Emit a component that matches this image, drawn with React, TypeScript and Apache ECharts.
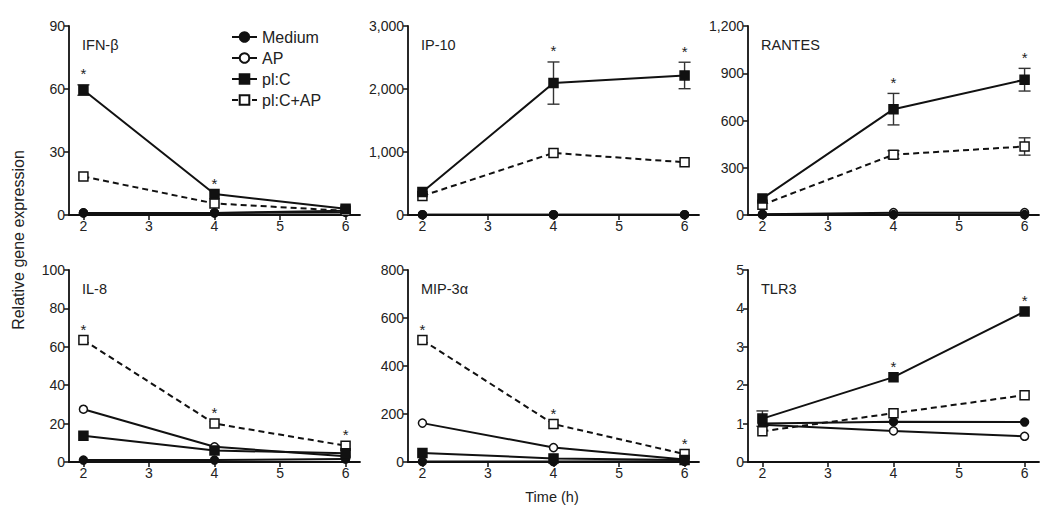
import React, { useEffect, useRef } from "react";
import * as echarts from "echarts";

// ---------- data ----------
const times = [2, 4, 6];
const groupNames = ["Medium", "AP", "pl:C", "pl:C+AP"];
const panelTitles = ["IFN-β", "IP-10", "RANTES", "IL-8", "MIP-3α", "TLR3"];
const yMax = [90, 3000, 1200, 100, 800, 5];
const yStep = [30, 1000, 300, 20, 200, 1];
const xTicks = [2, 3, 4, 5, 6];

// values per panel: [Medium, AP, pl:C, pl:C+AP], each at times 2, 4, 6
const ifnb = [[1, 1, 2], [1, 1, 1.2], [59.5, 10, 3], [18.3, 5.5, 2]];
const ip10 = [[5, 5, 5], [5, 5, 5], [366, 2094, 2215], [303, 985, 837]];
const rantes = [[3, 3, 3], [5, 15, 15], [105, 672, 859], [65, 383, 435]];
const il8 = [[1, 1, 1.5], [27.5, 7.9, 3], [13.7, 6, 4.5], [63.5, 20, 8.5]];
const mip3a = [[2, 2, 3], [162, 60, 10], [38, 15, 8], [508, 158, 33]];
const tlr3 = [[1.0, 1.05, 1.04], [0.97, 0.81, 0.67], [1.13, 2.21, 3.92], [0.8, 1.27, 1.74]];
const panelValues = [ifnb, ip10, rantes, il8, mip3a, tlr3];

// error (± SE) per panel: [group index, errors at times 2,4,6]
const ifnbErr = [[2, [2.5, 0, 0]]];
const ip10Err = [[2, [0, 335, 210]]];
const rantesErr = [[2, [0, 100, 72]], [3, [0, 25, 55]]];
const il8Err = [];
const mip3aErr = [];
const tlr3Err = [[2, [0.2, 0, 0]]];
const panelErrors = [ifnbErr, ip10Err, rantesErr, il8Err, mip3aErr, tlr3Err];

// significance stars: [group index the star sits over, times]
const ifnbStars = [2, [2, 4]];
const ip10Stars = [2, [4, 6]];
const rantesStars = [2, [4, 6]];
const il8Stars = [3, [2, 4, 6]];
const mip3aStars = [3, [2, 4, 6]];
const tlr3Stars = [2, [4, 6]];
const panelStars = [ifnbStars, ip10Stars, rantesStars, il8Stars, mip3aStars, tlr3Stars];

// ---------- layout ----------
const FONT = "'Liberation Sans', Arial, Helvetica, sans-serif";
const INK = "#111";
const colLeft = [69, 408, 748];
const rowTop = [26, 270];
const rowHeight = [189, 192];
const gridWidth = 291;

const groupStyles = [
  { symbol: "circle", size: 8, fill: INK, dashed: false, z: 4 },
  { symbol: "circle", size: 8, fill: "#fff", dashed: false, z: 3 },
  { symbol: "rect", size: 9, fill: INK, dashed: false, z: 6 },
  { symbol: "rect", size: 9, fill: "#fff", dashed: true, z: 5 },
];

function fmt(v: number) {
  return v.toLocaleString("en-US");
}

export default function App() {
  const ref = useRef<HTMLDivElement>(null);

  useEffect(() => {
    document.body.style.margin = "0";
    const chart = echarts.init(ref.current!, undefined, { renderer: "svg" });

    const grids: any[] = [];
    const xAxes: any[] = [];
    const yAxes: any[] = [];
    const titles: any[] = [];
    const series: any[] = [];

    for (let p = 0; p < 6; p++) {
      const r = Math.floor(p / 3);
      const c = p % 3;
      grids.push({
        left: colLeft[c],
        top: rowTop[r],
        width: gridWidth,
        height: rowHeight[r],
        containLabel: false,
      });
      xAxes.push({
        type: "value",
        gridIndex: p,
        min: 1.78,
        max: 6.22,
        splitLine: { show: false },
        axisLine: { show: true, onZero: false, lineStyle: { color: INK, width: 1.8 } },
        axisTick: { show: true, length: 5, customValues: xTicks, lineStyle: { color: INK, width: 1.5 } },
        axisLabel: {
          customValues: xTicks,
          margin: 4,
          color: "#222",
          fontSize: 14,
          fontFamily: FONT,
        },
      });
      yAxes.push({
        type: "value",
        gridIndex: p,
        min: 0,
        max: yMax[p],
        interval: yStep[p],
        splitLine: { show: false },
        axisLine: { show: true, onZero: false, lineStyle: { color: INK, width: 1.8 } },
        axisTick: { show: true, length: 5, lineStyle: { color: INK, width: 1.5 } },
        axisLabel: {
          margin: 4,
          color: "#222",
          fontSize: 14,
          fontFamily: FONT,
          formatter: (v: number) => fmt(v),
        },
      });
      titles.push({
        text: panelTitles[p],
        left: colLeft[c] + 8,
        top: rowTop[r] + 6,
        textStyle: { fontSize: 14.5, fontWeight: "normal", color: "#222", fontFamily: FONT },
      });

      const vals = panelValues[p];
      // error bars first (below markers)
      const errRows: number[][] = [];
      panelErrors[p].forEach((e: any) => {
        const gi = e[0];
        const errs = e[1];
        times.forEach((t, k) => {
          if (errs[k] > 0) errRows.push([t, vals[gi][k] - errs[k], vals[gi][k] + errs[k]]);
        });
      });
      if (errRows.length) {
        series.push({
          type: "custom",
          name: "err",
          xAxisIndex: p,
          yAxisIndex: p,
          z: 1,
          encode: { x: 0, y: [1, 2] },
          data: errRows,
          renderItem: (params: any, api: any) => {
            const x = api.value(0);
            const lo = api.coord([x, api.value(1)]);
            const hi = api.coord([x, api.value(2)]);
            const w = 6;
            const st = { stroke: "#333", lineWidth: 1.4 };
            return {
              type: "group",
              children: [
                { type: "line", shape: { x1: lo[0], y1: lo[1], x2: hi[0], y2: hi[1] }, style: st },
                { type: "line", shape: { x1: lo[0] - w, y1: lo[1], x2: lo[0] + w, y2: lo[1] }, style: st },
                { type: "line", shape: { x1: hi[0] - w, y1: hi[1], x2: hi[0] + w, y2: hi[1] }, style: st },
              ],
            };
          },
        });
      }

      groupNames.forEach((name, gi) => {
        const gs = groupStyles[gi];
        series.push({
          type: "line",
          name,
          xAxisIndex: p,
          yAxisIndex: p,
          z: gs.z,
          symbol: gs.symbol,
          symbolSize: gs.size,
          showSymbol: true,
          data: times.map((t, k) => [t, vals[gi][k]]),
          lineStyle: { color: INK, width: 2, type: gs.dashed ? [6, 4] : "solid" },
          itemStyle: { color: gs.fill, borderColor: INK, borderWidth: 1.5 },
          emphasis: { disabled: true },
        });
      });

      // stars
      const [sg, sTimes] = panelStars[p] as any;
      const starRows = (sTimes as number[]).map((t) => {
        const k = times.indexOf(t);
        let top = vals[sg][k];
        panelErrors[p].forEach((e: any) => {
          if (e[0] === sg) top += e[1][k];
        });
        return [t, top];
      });
      series.push({
        type: "custom",
        name: "stars",
        xAxisIndex: p,
        yAxisIndex: p,
        z: 10,
        encode: { x: 0, y: 1 },
        data: starRows,
        renderItem: (params: any, api: any) => {
          const pt = api.coord([api.value(0), api.value(1)]);
          return {
            type: "text",
            x: pt[0],
            y: pt[1] - 11,
            style: {
              text: "*",
              fontSize: 15,
              fontFamily: FONT,
              fill: "#222",
              align: "center",
              verticalAlign: "middle",
            },
          };
        },
      });
    }

    chart.setOption({
      animation: false,
      backgroundColor: "#fff",
      textStyle: { fontFamily: FONT },
      title: titles,
      grid: grids,
      xAxis: xAxes,
      yAxis: yAxes,
      legend: {
        data: groupNames,
        orient: "vertical",
        left: 226,
        top: 24,
        itemWidth: 25,
        itemHeight: 12,
        itemGap: 5,
        selectedMode: false,
        textStyle: { fontSize: 16, color: "#222", fontFamily: FONT, lineHeight: 16 },
      },
      graphic: [
        {
          type: "text",
          x: 18,
          y: 240,
          rotation: Math.PI / 2,
          style: {
            text: "Relative gene expression",
            fontSize: 16,
            fontFamily: FONT,
            fill: "#222",
            align: "center",
            verticalAlign: "middle",
          },
        },
        {
          type: "text",
          x: 552,
          y: 497,
          style: {
            text: "Time (h)",
            fontSize: 14.5,
            fontFamily: FONT,
            fill: "#222",
            align: "center",
            verticalAlign: "middle",
          },
        },
      ],
      series,
    });

    return () => chart.dispose();
  }, []);

  return (
    <div
      ref={ref}
      style={{ position: "fixed", left: 0, top: 0, width: 1050, height: 513, background: "#fff" }}
    />
  );
}
